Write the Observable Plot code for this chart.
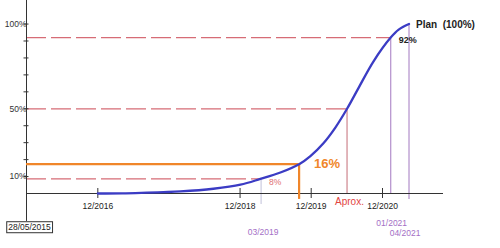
<!DOCTYPE html>
<html>
<head>
<meta charset="utf-8">
<script src="https://cdn.jsdelivr.net/npm/d3@7"></script>
<script src="https://cdn.jsdelivr.net/npm/@observablehq/plot@0.6"></script>
<style>
  html, body { margin: 0; padding: 0; background: #fff; }
  svg { display: block; }
</style>
</head>
<body>
<div id="chart"></div>
<script>
// ---- data ----
const curveDates = ["2016-12-01","2017-04-05","2017-08-11","2017-11-03","2018-01-29","2018-07-17","2018-12-03","2019-03-15","2019-06-26","2019-09-30","2019-11-27","2020-02-03","2020-04-03","2020-06-02","2020-08-01","2020-10-16","2021-01-12","2021-02-22","2021-04-16"];
const curvePct   = [0, 0.1, 0.5, 0.8, 1.2, 2.8, 5.2, 8.6, 12.4, 17.3, 22.1, 29.8, 38.9, 50, 62.5, 78, 92, 96.7, 100];

const yTicks  = [10, 20, 30, 40, 50, 60, 70, 80, 90, 100];
const yLabels = [10, 50, 100];

const xTickDates  = ["2016-12-01", "2018-12-01", "2019-12-01", "2020-12-01"];
const xTickLabels = ["12/2016", "12/2018", "12/2019", "12/2020"];

const startDate  = "2015-12-01";
const endDate    = "2021-10-10";
const startLabel = "28/05/2015";

const refLevels = [8.6, 50, 92];
const refDates  = ["2019-03-19", "2020-06-02", "2021-01-12"];
const refTexts  = ["8%", "", "92%"];

const actualDate = "2019-09-30";
const actualPct  = 17.3;
const actualText = "16%";

const aproxDate = "2020-06-02";
const aproxText = "Aprox.";

const milestoneDates  = ["2021-01-12", "2021-04-16"];
const milestonePct    = [92, 100];
const milestoneLabels = ["01/2021", "04/2021"];

const marchDate  = "2019-03-19";
const marchLabel = "03/2019";

const planText = "Plan  (100%)";

// ---- build ----
const D = s => new Date(s);
const curve = curveDates.map((d, i) => ({date: D(d), pct: curvePct[i]}));
const x0 = D(startDate);

const BLUE = "#3b3cc4";
const ORANGE = "#f0862a";
const DASH_RED = "#d66c76";
const APROX = "#d28e96";
const PURPLE_LINE = "#b897cf";
const PURPLE_TXT = "#a46fc6";
const AXIS = "#333";
const FONT = "'Liberation Sans', Arial, sans-serif";

const chart = Plot.plot({
  width: 500,
  height: 248,
  marginTop: 0,
  marginLeft: 26,
  marginRight: 57,
  marginBottom: 55,
  style: {fontFamily: FONT, fontSize: "8.5px", color: "#222", background: "#fff"},
  x: {type: "utc", domain: [x0, D(endDate)], axis: null},
  y: {domain: [0, 113.9], axis: null},
  marks: [
    // dashed reference levels
    Plot.ruleY(refLevels, {y: d => d, x1: x0, x2: (d, i) => D(refDates[i]), stroke: DASH_RED, strokeWidth: 1.3, strokeDasharray: "20,5"}),
    // 03/2019 vertical
    Plot.ruleX([marchDate], {x: d => D(d), y1: refLevels[0], y2: -6.5, stroke: "#cfcfe2", strokeWidth: 1.3}),
    // Aprox vertical
    Plot.ruleX([aproxDate], {x: d => D(d), y1: 50, y2: 0, stroke: APROX, strokeWidth: 1.3}),
    // milestone verticals
    Plot.ruleX([milestoneDates[0]], {x: d => D(d), y1: milestonePct[0], y2: 0, stroke: PURPLE_LINE, strokeWidth: 1.3}),
    Plot.ruleX([milestoneDates[1]], {x: d => D(d), y1: milestonePct[1], y2: -3.5, stroke: PURPLE_LINE, strokeWidth: 1.3}),
    // axes lines
    Plot.ruleX([x0], {x: d => d, y1: -16.5, y2: 113.9, stroke: AXIS, strokeWidth: 1}),
    Plot.ruleY([0], {y: d => d, x1: x0, x2: D(endDate), stroke: AXIS, strokeWidth: 1}),
    // y ticks crossing the axis
    Plot.ruleY(yTicks, {y: d => d, x1: x0, x2: x0, insetLeft: -2.5, insetRight: -2.5, stroke: AXIS}),
    // y labels
    Plot.axisY({ticks: yLabels, label: null, tickSize: 0, tickPadding: 0, tickFormat: d => d + "%", fill: "#333", fontSize: 8.5}),
    // x ticks crossing the axis
    Plot.ruleX(xTickDates, {x: d => D(d), y1: 0, y2: 0, insetTop: -5, insetBottom: -5, stroke: AXIS}),
    // x labels
    Plot.axisX({ticks: xTickDates.map(D), label: null, tickSize: 0, tickPadding: 9,
      tickFormat: d => xTickLabels[xTickDates.findIndex(t => +D(t) === +d)], fill: "#222", fontSize: 8.5}),
    // actual (orange)
    Plot.ruleY([actualPct], {y: d => d, x1: x0, x2: D(actualDate), stroke: ORANGE, strokeWidth: 2.2}),
    Plot.ruleX([actualDate], {x: d => D(d), y1: actualPct, y2: -3.5, stroke: ORANGE, strokeWidth: 2.2}),
    // plan curve
    Plot.line(curve, {x: "date", y: "pct", stroke: BLUE, strokeWidth: 2.3, curve: "catmull-rom"}),
    // texts
    Plot.text([actualText], {x: D(actualDate), y: actualPct, text: d => d, dx: 15, dy: 0, textAnchor: "start", fill: ORANGE, fontWeight: "bold", fontSize: 13}),
    Plot.text([refTexts[0]], {x: D(refDates[0]), y: refLevels[0], text: d => d, dx: 8, dy: 3, textAnchor: "start", fill: "#e07070", fontSize: 8.5}),
    Plot.text([refTexts[2]], {x: D(refDates[2]), y: refLevels[2], text: d => d, dx: 8, dy: 3, textAnchor: "start", fill: "#222", fontWeight: "bold", fontSize: 9}),
    Plot.text([planText], {x: D(milestoneDates[1]), y: 100, text: d => d, dx: 7, dy: 1, textAnchor: "start", fill: "#222", fontWeight: "bold", fontSize: 10}),
    Plot.text([aproxText], {x: D(aproxDate), y: 0, text: d => d, dx: -12, dy: 8, textAnchor: "start", fill: "#e2453f", fontSize: 10}),
    Plot.text([milestoneLabels[0]], {x: D(milestoneDates[0]), y: 0, text: d => d, dx: 1, dy: 30, textAnchor: "middle", fill: PURPLE_TXT, fontSize: 8.5}),
    Plot.text([milestoneLabels[1]], {x: D(milestoneDates[1]), y: 0, text: d => d, dx: -4, dy: 40, textAnchor: "middle", fill: PURPLE_TXT, fontSize: 8.5}),
    Plot.text([marchLabel], {x: D(marchDate), y: 0, text: d => d, dx: 2, dy: 39, textAnchor: "middle", fill: PURPLE_TXT, fontSize: 8.5}),
    Plot.text([startLabel], {x: x0, y: 0, text: d => d, dx: 3, dy: 34, textAnchor: "middle", fill: "#222", fontSize: 8.5})
  ]
});

document.getElementById("chart").appendChild(chart);

// box around the start date label
const t = Array.from(chart.querySelectorAll("text")).find(e => e.textContent === startLabel);
if (t) {
  const bb = t.getBBox();
  const r = document.createElementNS("http://www.w3.org/2000/svg", "rect");
  r.setAttribute("x", bb.x - 1.5);
  r.setAttribute("y", bb.y - 0.5);
  r.setAttribute("width", bb.width + 3);
  r.setAttribute("height", bb.height + 1);
  r.setAttribute("fill", "#fff");
  r.setAttribute("stroke", "#333");
  r.setAttribute("stroke-width", 1);
  const tr = t.getAttribute("transform");
  if (tr) r.setAttribute("transform", tr);
  t.parentNode.insertBefore(r, t);
}
</script>
</body>
</html>
